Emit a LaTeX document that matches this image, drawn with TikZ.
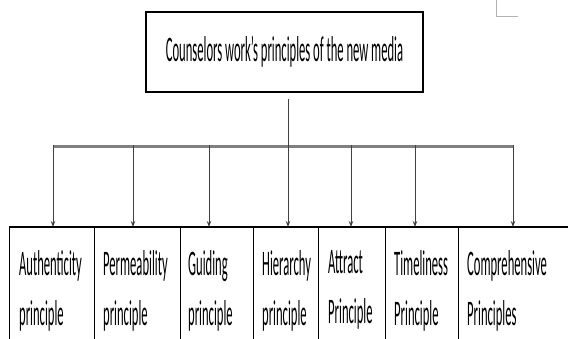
\documentclass[tikz,border=0pt]{standalone}
\usepackage{fontspec}
\newfontfamily\narrowfont[FakeStretch=0.35]{Carlito}
\usetikzlibrary{arrows.meta}

\begin{document}
\begin{tikzpicture}[x=1pt,y=-1pt,
  cell/.style={draw, line width=0.8pt, anchor=north west, minimum height=130pt, inner sep=0pt},
  celltext/.style={anchor=north west, align=left, inner sep=0pt,
    font=\narrowfont\fontsize{36}{50}\selectfont},
  drop/.style={-{Stealth[length=6pt,width=4.5pt]}, line width=1pt, draw=black!75},
  bar/.style={line width=3pt, draw=black!50}]

  \useasboundingbox (0,0) rectangle (568,338);
  \clip (0,0) rectangle (568,338);

  % corner mark
  \draw[black!30, line width=1pt] (496,0) -- (496,16) -- (518,16);

  % title box
  \node[draw, line width=1.3pt, minimum width=277pt, minimum height=80pt, inner sep=0pt,
    font=\narrowfont\fontsize{36}{40}\selectfont] (media) at (284.5,52)
    {Counselors work’s principles of the new media};

  % table cells
  \node[cell, minimum width=85pt] (auth) at (9,227) {};
  \node[cell, minimum width=86pt] (perm) at (94,227) {};
  \node[cell, minimum width=73pt] (guid) at (180,227) {};
  \node[cell, minimum width=65pt] (hier) at (253,227) {};
  \node[cell, minimum width=67pt] (attr) at (318,227) {};
  \node[cell, minimum width=73pt] (time) at (385,227) {};
  \node[cell, minimum width=122pt] (compr) at (458,227) {};
  \draw[line width=1.8pt] (auth.north west) -- (compr.north east);

  \node[celltext] (authT) at ([shift={(10,23)}]auth.north west) {Authenticity\\principle};
  \node[celltext] (permT) at ([shift={(9,23)}]perm.north west) {Permeability\\principle};
  \node[celltext] (guidT) at ([shift={(8,23)}]guid.north west) {Guiding\\principle};
  \node[celltext] (hierT) at ([shift={(9,23)}]hier.north west) {Hierarchy\\principle};
  \node[celltext] (attrT) at ([shift={(10,23)}]attr.north west) {Attract\\Principle};
  \node[celltext] (timeT) at ([shift={(9,23)}]time.north west) {Timeliness\\Principle};
  \node[celltext] (comprT) at ([shift={(9,23)}]compr.north west) {Comprehensive\\Principles};

  % branching bar
  \coordinate (d1) at (53,146);
  \coordinate (d2) at (133,146);
  \coordinate (d3) at (209,146);
  \coordinate (d4) at (288,146);
  \coordinate (d5) at (351,146);
  \coordinate (d6) at (415,146);
  \coordinate (d7) at (513,146);
  \draw[bar] (d1) -- (d7);

  \draw[drop, shorten <=6pt] (d4 |- media.south) -- (d4 |- hier.north);
  \foreach \d/\c in {d1/auth, d2/perm, d3/guid, d5/attr, d6/time, d7/compr}
    \draw[drop] ([yshift=1pt]\d) -- (\d |- \c.north);

\end{tikzpicture}
\end{document}
